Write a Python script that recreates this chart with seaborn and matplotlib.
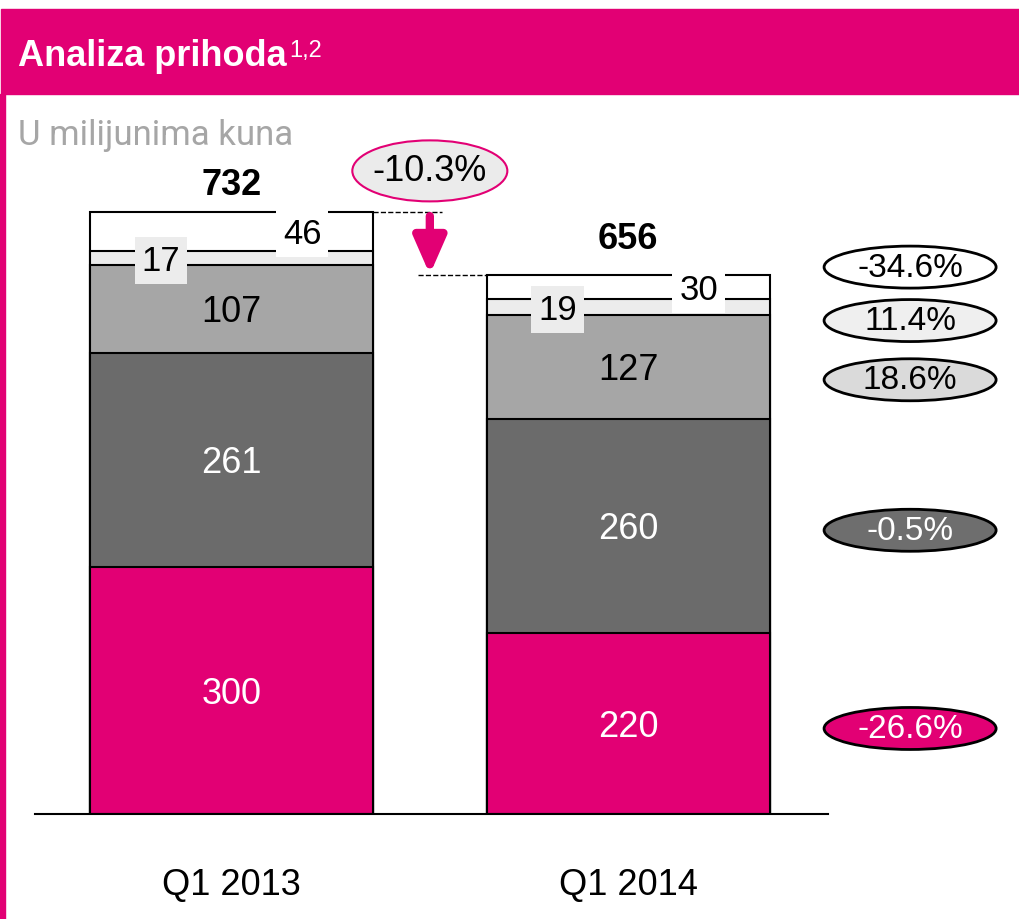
import numpy as np
import matplotlib
matplotlib.use('Agg')
import matplotlib.pyplot as plt
from matplotlib.patches import Ellipse, Rectangle
from matplotlib.text import Annotation
import seaborn as sns

# data (U milijunima kuna)
periods = ['Q1 2013', 'Q1 2014']
seg_1 = [300, 220]
seg_2 = [261, 260]
seg_3 = [107, 127]
seg_4 = [17, 19]
seg_5 = [46, 30]
totals = [732, 656]
seg_changes = ['-26.6%', '-0.5%', '18.6%', '11.4%', '-34.6%']
total_change = '-10.3%'

MAGENTA = '#E20074'
seg_colors = [MAGENTA, '#6B6B6B', '#A6A6A6', '#ECECEC', '#FFFFFF']
label_colors = ['white', 'white', 'black', 'black', 'black']
ellipse_fills = [MAGENTA, '#6E6E6E', '#DADADA', '#EFEFEF', '#FFFFFF']
ellipse_y = [104, 345, 528, 600, 665]

W, H = 1020, 920
PX_X = 396.5      # pixels per category step
PX_Y = 0.8224     # pixels per unit

sns.set_style('white')
plt.rcParams['font.family'] = ['Liberation Sans', 'DejaVu Sans']
plt.rcParams['text.color'] = 'black'
plt.rcParams['xtick.color'] = 'black'

fig = plt.figure(figsize=(W / 100, H / 100), dpi=100)
ax = fig.add_axes([35 / W, 105 / H, 793 / W, 675 / H])

segments = [seg_1, seg_2, seg_3, seg_4, seg_5]
cum = np.cumsum(np.array(segments), axis=0)
cum[-1] = totals

# stacked look: draw cumulative heights from the top layer down
for i in range(len(segments) - 1, -1, -1):
    sns.barplot(x=periods, y=cum[i], color=seg_colors[i], width=0.714,
                saturation=1, edgecolor='black', linewidth=1.5,
                errorbar=None, ax=ax)

# segment labels
for i, seg in enumerate(segments):
    for j in range(len(periods)):
        bottom = cum[i - 1][j] if i > 0 else 0
        yc = (bottom + cum[i][j]) / 2 - 3
        if i < 3:
            ax.text(j, yc, str(seg[j]), ha='center', va='center',
                    fontsize=26, color=label_colors[i])
        else:
            dx = -0.178 if i == 3 else 0.178
            ax.text(j + dx, yc, str(seg[j]), ha='center', va='center',
                    fontsize=25, color='black',
                    bbox=dict(boxstyle='square,pad=0.2', fc=seg_colors[i], ec='none'))

# totals
for j, off in enumerate([28, 36]):
    ax.annotate(str(totals[j]), (j, totals[j]), xytext=(0, off),
                textcoords='offset pixels', ha='center', va='center',
                fontsize=26, fontweight='bold')

# change arrow between the bars
ax.plot([0.357, 0.531], [totals[0]] * 2, ls='--', color='black', lw=1)
ax.plot([0.470, 0.644], [totals[1]] * 2, ls='--', color='black', lw=1)
ax.annotate('', xy=(0.5, totals[1]), xytext=(0.5, totals[0] - 5),
            arrowprops=dict(arrowstyle='-|>,head_width=0.35,head_length=0.8',
                            color=MAGENTA, lw=6, mutation_scale=28,
                            shrinkA=0, shrinkB=0))
ax.add_patch(Ellipse((0.5, 782), 155 / PX_X, 61 / PX_Y, fc='#EBEBEB',
                     ec=MAGENTA, lw=1.5, clip_on=False))
ax.text(0.5, 782, total_change, ha='center', va='center', fontsize=26)

# per-segment change ellipses on the right
for k, txt in enumerate(seg_changes):
    ax.add_patch(Ellipse((1.711, ellipse_y[k]), 172 / PX_X, 42 / PX_Y,
                         fc=ellipse_fills[k], ec='black', lw=2, clip_on=False))
    ax.text(1.711, ellipse_y[k], txt, ha='center', va='center', fontsize=24,
            color=label_colors[k], clip_on=False)

ax.set_xlim(-0.4956, 1.504)
ax.set_ylim(0, 675 / PX_Y)
ax.set_yticks([])
ax.set_xlabel('')
ax.set_ylabel('')
for side in ['left', 'top', 'right']:
    ax.spines[side].set_visible(False)
ax.spines['bottom'].set_color('black')
ax.spines['bottom'].set_linewidth(1.5)
ax.tick_params(axis='x', length=0, pad=38, labelsize=26)

# header band and left border
fig.add_artist(Rectangle((1 / W, (H - 95) / H), 1, 85 / H,
                         transform=fig.transFigure, color=MAGENTA))
fig.add_artist(Rectangle((0, 0), 5 / W, (H - 95) / H,
                         transform=fig.transFigure, color=MAGENTA))
title = fig.text(18 / W, (H - 66) / H, 'Analiza prihoda', color='white',
                 fontsize=26, fontweight='bold', va='baseline')
sup = Annotation('1,2', xy=(1, 0), xycoords=title, xytext=(2, 12),
                 textcoords='offset points', color='white', fontsize=17,
                 va='baseline', ha='left')
fig.add_artist(sup)
fig.text(18 / W, (H - 145) / H, 'U milijunima kuna', color='#A6A6A6',
         fontsize=25, va='baseline', family=['Roboto', 'DejaVu Sans'])

fig.savefig('out.png', dpi=100)
